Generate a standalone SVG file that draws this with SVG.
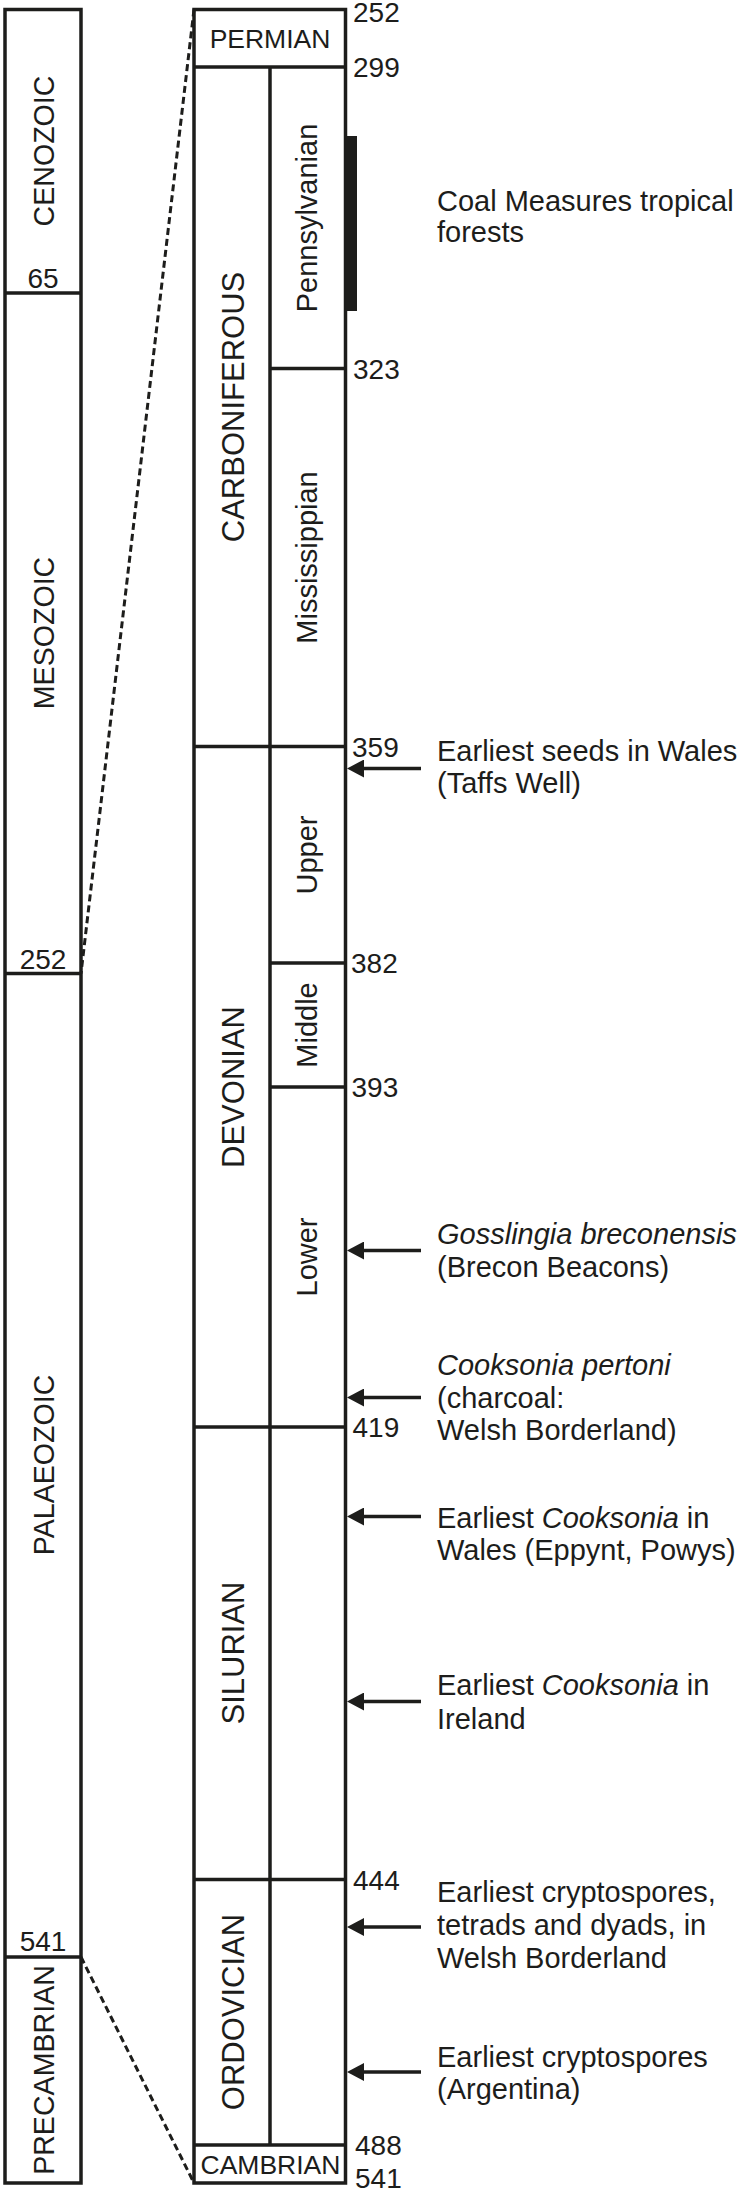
<svg xmlns="http://www.w3.org/2000/svg" width="747" height="2190" viewBox="0 0 747 2190">
<defs>
<style>
.box{fill:none;stroke:#1d1d1b;stroke-width:3.5}
.ln{stroke:#1d1d1b;stroke-width:3.5;fill:none}
.dash{stroke:#1d1d1b;stroke-width:3;fill:none;stroke-dasharray:7 4}
.arr{stroke:#1d1d1b;stroke-width:3.5;fill:none;marker-end:url(#ah)}
text{font-family:"Liberation Sans",Arial,Helvetica,sans-serif;fill:#1d1d1b}
.num{font-size:28px}
.numc{font-size:28px;text-anchor:middle}
.era{font-size:28.6px;text-anchor:middle}
.per{font-size:31px;text-anchor:middle}
.sub{font-size:29px;text-anchor:middle}
.boxl{font-size:26.5px;text-anchor:middle}
.ann{font-size:29px}
.it{font-style:italic}
</style>
<marker id="ah" viewBox="0 0 17 18" refX="4" refY="9" markerWidth="17" markerHeight="18" markerUnits="userSpaceOnUse" orient="auto">
<path d="M0,0 L17,9 L0,18 z" fill="#1d1d1b"/>
</marker>
</defs>
<rect width="747" height="2190" fill="#ffffff"/>

<g id="era-column">
<rect class="box" x="5" y="9.5" width="76" height="2173.5"/>
<line class="ln" x1="5" y1="293" x2="81" y2="293"/>
<line class="ln" x1="5" y1="973.5" x2="81" y2="973.5"/>
<line class="ln" x1="5" y1="1957" x2="81" y2="1957"/>
</g>
<g id="cenozoic"><text class="era" transform="translate(54,151) rotate(-90)">CENOZOIC</text></g>
<g id="mesozoic"><text class="era" transform="translate(54,633) rotate(-90)">MESOZOIC</text></g>
<g id="palaeozoic"><text class="era" transform="translate(54,1465) rotate(-90)">PALAEOZOIC</text></g>
<g id="precambrian"><text class="era" transform="translate(54,2070) rotate(-90)">PRECAMBRIAN</text></g>
<g id="era-ages">
<text class="numc" x="43" y="288">65</text>
<text class="numc" x="43" y="968.5">252</text>
<text class="numc" x="43" y="1951">541</text>
</g>

<g id="period-column">
<rect class="box" x="194" y="9.5" width="151.5" height="2173.5"/>
<line class="ln" x1="194" y1="67" x2="345.5" y2="67"/>
<line class="ln" x1="194" y1="746.5" x2="345.5" y2="746.5"/>
<line class="ln" x1="194" y1="1427" x2="345.5" y2="1427"/>
<line class="ln" x1="194" y1="1879.5" x2="345.5" y2="1879.5"/>
<line class="ln" x1="194" y1="2145" x2="345.5" y2="2145"/>
<line class="ln" x1="270" y1="67" x2="270" y2="2145"/>
<line class="ln" x1="270" y1="368.5" x2="345.5" y2="368.5"/>
<line class="ln" x1="270" y1="963" x2="345.5" y2="963"/>
<line class="ln" x1="270" y1="1087" x2="345.5" y2="1087"/>
</g>
<g id="permian"><text class="boxl" x="270" y="47.5">PERMIAN</text></g>
<g id="carboniferous"><text class="per" transform="translate(243.5,407) rotate(-90)">CARBONIFEROUS</text></g>
<g id="pennsylvanian"><text class="sub" transform="translate(317,218) rotate(-90)">Pennsylvanian</text></g>
<g id="mississippian"><text class="sub" transform="translate(317,557.5) rotate(-90)">Mississippian</text></g>
<g id="devonian"><text class="per" transform="translate(243.5,1087) rotate(-90)">DEVONIAN</text></g>
<g id="upper"><text class="sub" transform="translate(317,855) rotate(-90)">Upper</text></g>
<g id="middle"><text class="sub" transform="translate(317,1025) rotate(-90)">Middle</text></g>
<g id="lower"><text class="sub" transform="translate(317,1257) rotate(-90)">Lower</text></g>
<g id="silurian"><text class="per" transform="translate(243.5,1653) rotate(-90)">SILURIAN</text></g>
<g id="ordovician"><text class="per" transform="translate(243.5,2012) rotate(-90)">ORDOVICIAN</text></g>
<g id="cambrian"><text class="boxl" x="270.5" y="2173.5">CAMBRIAN</text></g>

<g id="period-ages">
<text class="num" x="353" y="21.5">252</text>
<text class="num" x="353" y="77">299</text>
<text class="num" x="353" y="378.5">323</text>
<text class="num" x="352" y="756.5">359</text>
<text class="num" x="351" y="973">382</text>
<text class="num" x="351.5" y="1097">393</text>
<text class="num" x="352.5" y="1437">419</text>
<text class="num" x="353" y="1890">444</text>
<text class="num" x="355" y="2155">488</text>
<text class="num" x="355" y="2187.5">541</text>
</g>

<g id="coal-bar"><rect x="345.5" y="136" width="11.5" height="175" fill="#1d1d1b"/></g>

<g id="connectors">
<line class="dash" x1="194" y1="9.5" x2="81" y2="973.5"/>
<line class="dash" x1="81" y1="1957" x2="194" y2="2183"/>
<line class="arr" x1="421" y1="768.5" x2="360" y2="768.5"/>
<line class="arr" x1="421" y1="1250.5" x2="360" y2="1250.5"/>
<line class="arr" x1="421" y1="1397.5" x2="360" y2="1397.5"/>
<line class="arr" x1="421" y1="1516.5" x2="360" y2="1516.5"/>
<line class="arr" x1="421" y1="1701.5" x2="360" y2="1701.5"/>
<line class="arr" x1="421" y1="1927" x2="360" y2="1927"/>
<line class="arr" x1="421" y1="2072" x2="360" y2="2072"/>
</g>

<g id="note-coal"><text class="ann" x="437" y="210.5">Coal Measures tropical</text><text class="ann" x="437" y="241.5">forests</text></g>
<g id="note-seeds"><text class="ann" x="437" y="760.5">Earliest seeds in Wales</text><text class="ann" x="437" y="792.5">(Taffs Well)</text></g>
<g id="note-gosslingia"><text class="ann" x="437" y="1244"><tspan class="it">Gosslingia breconensis</tspan></text><text class="ann" x="437" y="1276.5">(Brecon Beacons)</text></g>
<g id="note-pertoni"><text class="ann" x="437" y="1375"><tspan class="it">Cooksonia pertoni</tspan></text><text class="ann" x="437" y="1407.5">(charcoal:</text><text class="ann" x="437" y="1440">Welsh Borderland)</text></g>
<g id="note-wales"><text class="ann" x="437" y="1527.5">Earliest <tspan class="it">Cooksonia</tspan> in</text><text class="ann" x="437" y="1560">Wales (Eppynt, Powys)</text></g>
<g id="note-ireland"><text class="ann" x="437" y="1695">Earliest <tspan class="it">Cooksonia</tspan> in</text><text class="ann" x="437" y="1728.5">Ireland</text></g>
<g id="note-cryptospores"><text class="ann" x="437" y="1901.5">Earliest cryptospores,</text><text class="ann" x="437" y="1934.5">tetrads and dyads, in</text><text class="ann" x="437" y="1967.5">Welsh Borderland</text></g>
<g id="note-argentina"><text class="ann" x="437" y="2067">Earliest cryptospores</text><text class="ann" x="437" y="2098.5">(Argentina)</text></g>
</svg>
